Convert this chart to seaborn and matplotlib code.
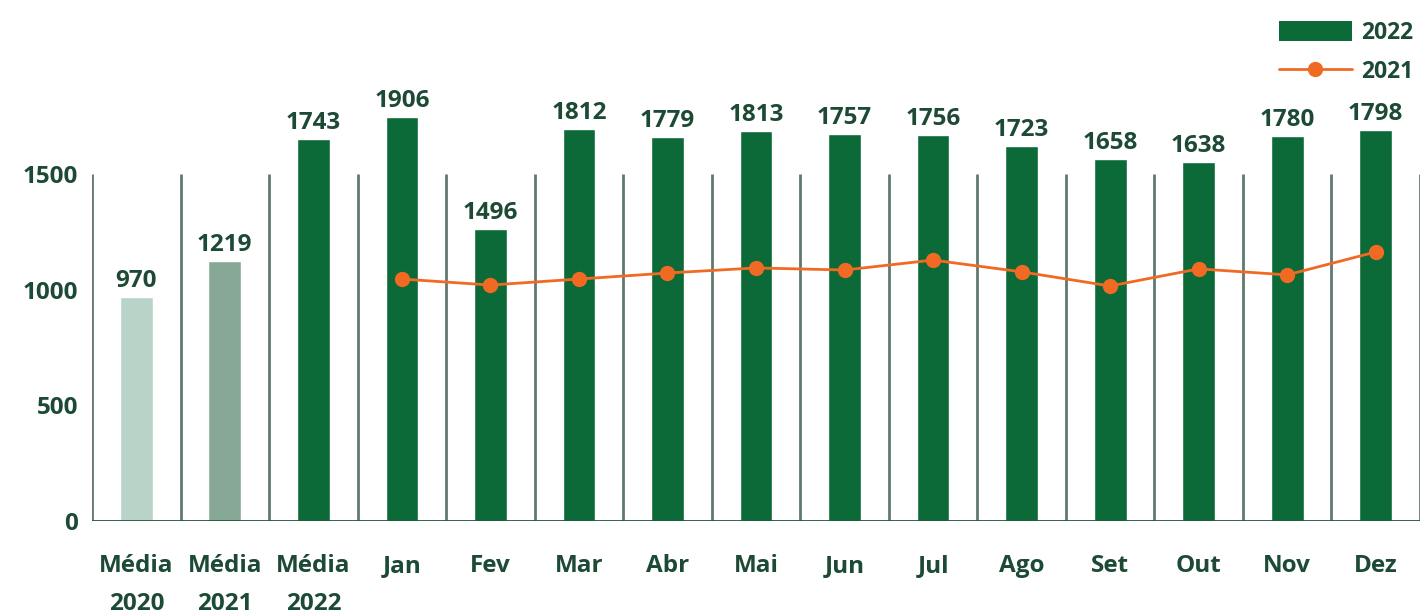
import numpy as np
import pandas as pd
import matplotlib
matplotlib.use("Agg")
import matplotlib.pyplot as plt
import seaborn as sns
from matplotlib.patches import Patch
from matplotlib.lines import Line2D

# dados
categories = ["Média\n2020", "Média\n2021", "Média\n2022", "Jan", "Fev", "Mar", "Abr",
              "Mai", "Jun", "Jul", "Ago", "Set", "Out", "Nov", "Dez"]
bar_heights = [968, 1124, 1651, 1747, 1262, 1695, 1660, 1686, 1673, 1669,
               1621, 1565, 1552, 1665, 1690]
value_labels = ["970", "1219", "1743", "1906", "1496", "1812", "1779", "1813",
                "1757", "1756", "1723", "1658", "1638", "1780", "1798"]
months = ["Jan", "Fev", "Mar", "Abr", "Mai", "Jun", "Jul", "Ago", "Set", "Out", "Nov", "Dez"]
values_2021 = [1046, 1020, 1046, 1072, 1094, 1085, 1128, 1077, 1016, 1090, 1064, 1163]
yticks = [0, 500, 1000, 1500]

light = "#b9d3c8"
mid = "#88a897"
dark = "#0b6a37"
orange = "#f06a24"
txt = "#1d4a35"
grid = "#5f7a6c"

sns.set_theme(style="white")
plt.rcParams["font.family"] = ["Open Sans", "DejaVu Sans"]
plt.rcParams["font.weight"] = "bold"

df = pd.DataFrame({"cat": categories, "h": bar_heights})
colors = [light, mid] + [dark] * (len(categories) - 2)

fig = plt.figure(figsize=(14.27, 6.16), dpi=100)
ax = fig.add_axes([0.0645, 0.1542, 0.9306, 0.7511])

sns.barplot(data=df, x="cat", y="h", hue="cat", palette=colors, legend=False,
            width=0.37, saturation=1, ax=ax, zorder=3)

# linhas verticais entre categorias
ax.vlines(np.arange(len(categories) + 1) - 0.5, 0, 1500, color=grid, lw=2, zorder=1)
ax.axhline(0, color="#1a5a3a", lw=2, zorder=4)

month_pos = [categories.index(m) for m in months]
sns.lineplot(x=month_pos, y=values_2021, color=orange, lw=2, marker="o",
             markersize=11, markeredgewidth=0, ax=ax, zorder=5)

fs = 17.5
for i, (h, lab) in enumerate(zip(bar_heights, value_labels)):
    ax.annotate(lab, (i, h), xytext=(0, 3), textcoords="offset points",
                ha="center", va="bottom", fontsize=fs, color=txt, fontweight="bold")

ax.set_xlim(-0.5, len(categories) - 0.5)
ax.set_ylim(0, 2000)
ax.set_yticks(yticks)
ax.set_yticklabels([str(t) for t in yticks], fontsize=fs, color=txt, fontweight="bold")
ax.set_xticks(range(len(categories)))
ax.set_xticklabels(categories, fontsize=fs, color=txt, fontweight="bold", linespacing=1.75)
ax.tick_params(axis="x", length=0, pad=24)
ax.tick_params(axis="y", length=0, pad=10)
ax.set_xlabel("")
ax.set_ylabel("")
for s in ax.spines.values():
    s.set_visible(False)

handles = [Patch(facecolor=dark, edgecolor="none", label="2022"),
           Line2D([0], [0], color=orange, lw=2, marker="o", markersize=11,
                  markeredgewidth=0, label="2021")]
fig.legend(handles=handles, loc="upper right", bbox_to_anchor=(1.005, 1.0),
           frameon=False, handlelength=3.2, handleheight=1.0,
           handletextpad=0.4, labelspacing=0.65, labelcolor=txt,
           prop={"weight": "bold", "size": 16.5})

fig.savefig("out.png", dpi=100)
